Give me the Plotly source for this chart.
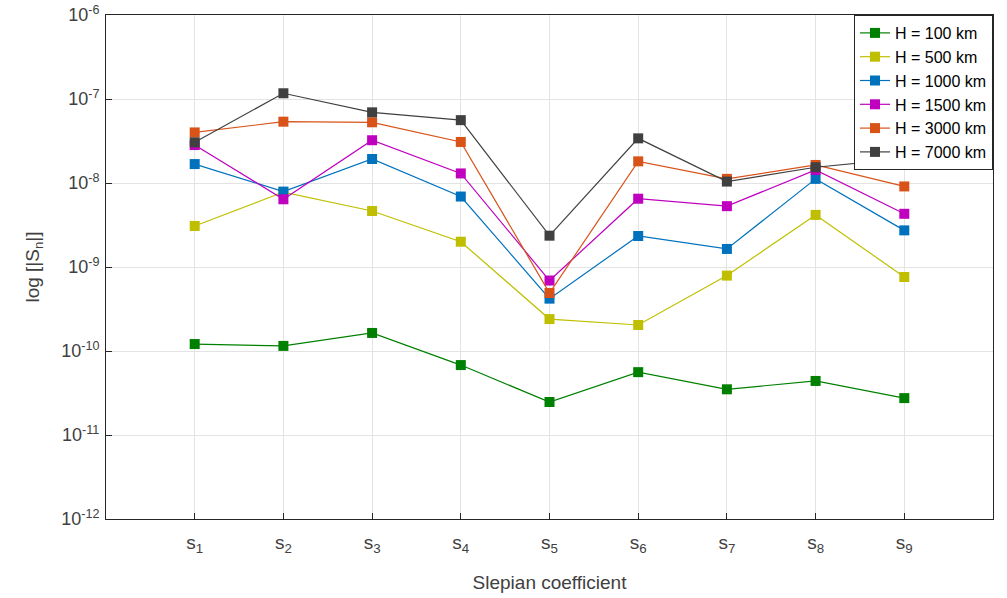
import plotly.graph_objects as go

categories = ["s<sub>1</sub>", "s<sub>2</sub>", "s<sub>3</sub>", "s<sub>4</sub>", "s<sub>5</sub>",
              "s<sub>6</sub>", "s<sub>7</sub>", "s<sub>8</sub>", "s<sub>9</sub>"]
x_pos = [1, 2, 3, 4, 5, 6, 7, 8, 9]

h100 = [1.21e-10, 1.15e-10, 1.64e-10, 6.8e-11, 2.47e-11, 5.6e-11, 3.5e-11, 4.4e-11, 2.75e-11]
h500 = [3.08e-9, 7.8e-9, 4.64e-9, 2.0e-9, 2.4e-10, 2.04e-10, 7.9e-10, 4.17e-9, 7.6e-10]
h1000 = [1.68e-8, 7.9e-9, 1.93e-8, 6.9e-9, 4.2e-10, 2.34e-9, 1.64e-9, 1.12e-8, 2.73e-9]
h1500 = [2.83e-8, 6.4e-9, 3.23e-8, 1.30e-8, 6.9e-10, 6.5e-9, 5.3e-9, 1.43e-8, 4.3e-9]
h3000 = [4.0e-8, 5.37e-8, 5.28e-8, 3.08e-8, 4.9e-10, 1.81e-8, 1.12e-8, 1.64e-8, 9.1e-9]
h7000 = [3.05e-8, 1.17e-7, 6.94e-8, 5.6e-8, 2.36e-9, 3.4e-8, 1.04e-8, 1.54e-8, 1.95e-8]

series_names = ["H = 100 km", "H = 500 km", "H = 1000 km", "H = 1500 km", "H = 3000 km", "H = 7000 km"]
series_values = [h100, h500, h1000, h1500, h3000, h7000]
colors = ["#008000", "#BFBF00", "#0072BD", "#BF00BF", "#D95319", "#404040"]

y_tickvals = [1e-12, 1e-11, 1e-10, 1e-9, 1e-8, 1e-7, 1e-6]
y_ticktext = ["10<sup>-12</sup>", "10<sup>-11</sup>", "10<sup>-10</sup>", "10<sup>-9</sup>",
              "10<sup>-8</sup>", "10<sup>-7</sup>", "10<sup>-6</sup>"]

fig = go.Figure()
for name, vals, c in zip(series_names, series_values, colors):
    fig.add_trace(go.Scatter(
        x=x_pos, y=vals, name=name, mode="lines+markers",
        line=dict(color=c, width=1.2),
        marker=dict(symbol="square", size=10, color=c),
    ))

font_family = "Liberation Sans, Arial, Helvetica, sans-serif"
fig.update_layout(
    width=1007, height=598,
    margin=dict(l=106, r=14, t=15, b=79),
    paper_bgcolor="white", plot_bgcolor="white",
    font=dict(family=font_family, size=15, color="#262626"),
    showlegend=True,
    legend=dict(x=1, y=1, xanchor="right", yanchor="top",
                bgcolor="white", bordercolor="#262626", borderwidth=1,
                font=dict(size=16, color="#000000"),
                tracegroupgap=0, itemwidth=30),
    xaxis=dict(
        range=[0, 10], tickmode="array", tickvals=x_pos, ticktext=categories,
        showgrid=True, gridcolor="#E3E3E3", gridwidth=1,
        showline=True, linecolor="#262626", linewidth=1, mirror=True,
        ticks="inside", ticklen=6, tickcolor="#262626",
        zeroline=False, automargin=False, ticklabelstandoff=6,
        tickfont=dict(size=19, color="#404040"),
        title=dict(text="Slepian coefficient", font=dict(size=19, color="#404040"), standoff=20),
    ),
    yaxis=dict(
        type="log", range=[-12, -6], tickmode="array", tickvals=y_tickvals, ticktext=y_ticktext,
        showgrid=True, gridcolor="#E3E3E3", gridwidth=1,
        showline=True, linecolor="#262626", linewidth=1, mirror=True,
        ticks="inside", ticklen=6, tickcolor="#262626",
        zeroline=False, automargin=False, ticklabelstandoff=2,
        tickfont=dict(size=18, color="#404040"),
        title=dict(text="log [|S<sub>n</sub>|]", font=dict(size=19, color="#404040"), standoff=16),
    ),
)

fig.write_html("out.html", config={"displayModeBar": False},
               post_script="document.body.style.margin='0';document.body.style.overflow='hidden';")
